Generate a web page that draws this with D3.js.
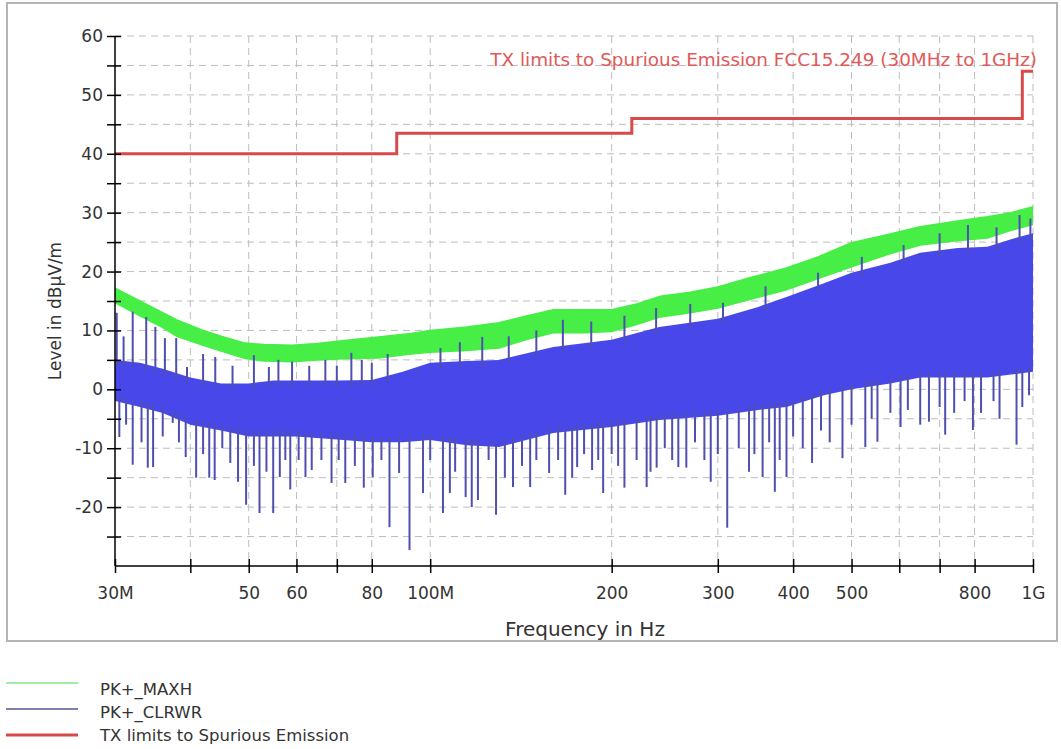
<!DOCTYPE html>
<html lang="en">
<head>
<meta charset="UTF-8">
<title>Spurious Emission 30MHz - 1GHz</title>
<script src="https://d3js.org/d3.v7.min.js"></script>
<style>
  body { margin: 0; background: #fff; }
  svg text { font-family: "DejaVu Sans", sans-serif; fill: #333; }
  .grid line { stroke: #bdbdbd; stroke-width: 1; stroke-dasharray: 7,5; }
  .axis path, .axis line { stroke: #000; stroke-width: 1.5; }
</style>
</head>
<body>
<svg id="chart" width="1061" height="749"></svg>
<script>
// frequencies in MHz, levels in dBuV/m
const xTickVals = [30, 40, 50, 60, 70, 80, 100, 200, 300, 400, 500, 600, 700, 800, 1000];
const xTickLabels = ["30M", "", "50", "60", "", "80", "100M", "200", "300", "400", "500", "", "", "800", "1G"];
const yTickVals = [-25, -20, -15, -10, -5, 0, 5, 10, 15, 20, 25, 30, 35, 40, 45, 50, 55, 60];

// PK+_MAXH band (top / bottom of the noisy trace)
const greenFreq = [30, 33, 36, 38, 42, 45, 49, 53, 59, 65, 72, 82, 93, 100, 115, 130, 145, 160, 180, 200, 220, 241, 270, 300, 340, 390, 440, 500, 570, 650, 740, 840, 920, 1000];
const greenHigh = [17.2, 15, 13, 11.8, 10, 9, 7.9, 7.6, 7.5, 7.8, 8.3, 8.9, 9.5, 10, 10.6, 11.3, 12.5, 13.5, 13.5, 13.5, 14.5, 15.8, 16.5, 17.4, 19, 20.6, 22.5, 24.9, 26.2, 27.6, 28.5, 29.3, 30, 31];
const greenLow = [14.7, 12.5, 10.5, 9, 7.5, 6.5, 5.3, 4.8, 4.7, 5, 5.2, 5.3, 6, 6.3, 6.6, 7, 8.5, 9.6, 9.6, 9.8, 11, 12.3, 13, 13.8, 15.3, 16.9, 18.8, 20.8, 22.8, 24.5, 25.2, 25.7, 27, 28];

// PK+_CLRWR dense core
const blueFreq = [30, 33, 36, 40, 45, 50, 55, 60, 70, 80, 90, 100, 115, 130, 160, 200, 240, 300, 350, 390, 450, 500, 580, 650, 750, 840, 920, 1000];
const blueHigh = [5, 4.5, 3.5, 2, 1, 1, 1.5, 1.5, 1.5, 1.6, 3, 4.5, 4.8, 5, 7.2, 8.4, 10.6, 12, 14, 15.7, 18, 19.8, 21.5, 23.2, 24, 24.2, 25.5, 26.5];
const blueLow = [-2, -3, -4, -6, -7, -8, -8, -8, -8.5, -9, -9, -8.6, -9.5, -9.8, -7.4, -6.4, -5.2, -4.5, -3.5, -3, -1, 0, 1, 2, 2, 2, 2.5, 3];

// PK+_CLRWR downward spikes
const downFreq = [30.5, 31.3, 32.1, 33.2, 34.0, 34.7, 36, 37.4, 38.3, 39.3, 40.9, 42, 43.0, 43.9, 45.2, 46.6, 48.0, 49.5, 51, 52.1, 53.5, 54.9, 56.3, 57.5, 58.6, 60.5, 62.1, 63.6, 66, 68.6, 70.5, 72.3, 75, 77.6, 80.3, 83, 85.6, 88.8, 92.4, 97.3, 100, 105, 107.8, 110, 114.5, 117.2, 120, 125, 128.6, 133, 137.2, 142, 146.5, 150, 157.5, 163, 167.5, 172, 175.3, 180, 185.6, 190, 193.6, 200, 205, 210, 220, 228.6, 232, 237.5, 245, 252, 258, 266, 275, 285, 292, 300, 311, 325, 338, 345, 356, 365, 373, 380, 390, 400, 415, 430, 445, 460, 483, 500, 527, 540, 552, 580, 603, 620, 650, 672, 700, 715, 740, 770, 795, 820, 860, 880, 939, 960, 985];
const downLevel = [-8.1, -6, -12.8, -9, -13.3, -13.2, -8, -5.7, -9, -11.5, -15, -11, -15, -15.4, -10, -12.5, -15.7, -19.6, -13, -21, -14, -21, -14.9, -12, -17, -12, -14.9, -13.7, -12, -15.9, -12, -15.9, -13, -16.7, -14.9, -12, -23.4, -14.2, -27.3, -17.6, -12, -21, -17.6, -14, -18.3, -20, -18.8, -12, -21.3, -15, -16.6, -13, -16.6, -12, -14.2, -12, -17.9, -15, -13.2, -11, -13.7, -12, -17.6, -11, -13, -16.7, -12, -16.6, -14, -13.3, -10, -12, -13.2, -13.3, -9, -12, -15.7, -11, -23.5, -10, -14, -11, -14.9, -9, -17.4, -12, -14.9, -8, -10, -12.5, -7, -9, -11.7, -6, -9.8, -5, -8.9, -4, -6.4, -3.5, -6, -5.5, -3, -7.7, -4, -2, -6.9, -4, -2, -5, -9.4, -3, -1];

// PK+_CLRWR upward spikes
const upFreq = [30.2, 31, 32.1, 33.8, 35, 36.3, 37.9, 39.5, 42, 44, 47, 51, 54, 56, 59, 63, 67, 70, 74, 77, 80, 85, 95, 104, 112, 122, 135, 150, 166, 185, 210, 237, 270, 306, 360, 440, 520, 610, 700, 780, 870, 950, 990];
const upLevel = [13, 9, 13.2, 12.3, 10.6, 8.7, 8.7, 3.8, 6, 5.5, 4, 5.8, 3.8, 5, 4.7, 4, 5, 4, 6.2, 5, 4.5, 6, 3.3, 7, 8, 8.9, 9, 10, 11.8, 11.5, 12.5, 13.8, 14.5, 14.7, 17.5, 19.8, 22.5, 24.5, 26.5, 27.9, 27.5, 29.6, 29];

// limit line FCC 15.209 steps
const limitFreq = [30, 88, 88, 216, 216, 960, 960, 1000];
const limitLevel = [40, 40, 43.5, 43.5, 46, 46, 54, 54];

const legendNames = ["PK+_MAXH", "PK+_CLRWR", "TX limits to Spurious Emission"];
const legendColors = ["#86e586", "#55558f", "#d84a4a"];
const legendWidths = [1.5, 1.5, 3];

const svg = d3.select("#chart");

// outer frame
svg.append("rect")
  .attr("x", 7).attr("y", 3).attr("width", 1050).attr("height", 638)
  .attr("fill", "#fff").attr("stroke", "#b4b4b4").attr("stroke-width", 2);

const x = d3.scaleLog().domain([30, 1000]).range([115, 1033]);
const y = d3.scaleLinear().domain([-30, 60]).range([566, 36]);

// grid
const grid = svg.append("g").attr("class", "grid");
grid.selectAll("line.v")
  .data(xTickVals.slice(1))
  .enter().append("line")
  .attr("x1", d => x(d)).attr("x2", d => x(d))
  .attr("y1", y(60)).attr("y2", y(-30));
grid.selectAll("line.h")
  .data(yTickVals)
  .enter().append("line")
  .attr("x1", x(30)).attr("x2", x(1000))
  .attr("y1", d => y(d)).attr("y2", d => y(d));

svg.append("clipPath").attr("id", "plot")
  .append("rect").attr("x", x(30)).attr("y", y(60))
  .attr("width", x(1000) - x(30)).attr("height", y(-30) - y(60));

const plot = svg.append("g").attr("clip-path", "url(#plot)");

// green band
const greenArea = d3.area()
  .x((d, i) => x(greenFreq[i]))
  .y0((d, i) => y(greenLow[i]))
  .y1((d, i) => y(greenHigh[i]));
plot.append("path")
  .datum(greenFreq)
  .attr("d", greenArea)
  .attr("fill", "#46ee46")
  .attr("stroke", "#46ee46")
  .attr("stroke-width", 1.5);

// blue core
const blueArea = d3.area()
  .x((d, i) => x(blueFreq[i]))
  .y0((d, i) => y(blueLow[i]))
  .y1((d, i) => y(blueHigh[i]));
plot.append("path")
  .datum(blueFreq)
  .attr("d", blueArea)
  .attr("fill", "#4848ea");

// blue spikes start from the edge of the core
const lowAt = d3.scaleLog().domain(blueFreq).range(blueLow);
const highAt = d3.scaleLog().domain(blueFreq).range(blueHigh);

plot.selectAll("line.down")
  .data(downFreq)
  .enter().append("line")
  .attr("x1", d => x(d)).attr("x2", d => x(d))
  .attr("y1", d => y(lowAt(d) + 1))
  .attr("y2", (d, i) => y(downLevel[i]))
  .attr("stroke", "#4f4fb0")
  .attr("stroke-width", 2);

plot.selectAll("line.up")
  .data(upFreq)
  .enter().append("line")
  .attr("x1", d => x(d)).attr("x2", d => x(d))
  .attr("y1", d => y(highAt(d) - 1))
  .attr("y2", (d, i) => y(upLevel[i]))
  .attr("stroke", "#4f4fb0")
  .attr("stroke-width", 2);

// limit line
plot.append("path")
  .datum(limitFreq)
  .attr("d", d3.line().x(d => x(d)).y((d, i) => y(limitLevel[i])))
  .attr("fill", "none")
  .attr("stroke", "#d84a4a")
  .attr("stroke-width", 3);

svg.append("text")
  .attr("x", 1037).attr("y", 66)
  .attr("text-anchor", "end")
  .style("font-size", "18.4px")
  .style("fill", "#e05a5a")
  .text("TX limits to Spurious Emission FCC15.249 (30MHz to 1GHz)");

// axes
const xAxis = svg.append("g")
  .attr("class", "axis")
  .attr("transform", `translate(0,${y(-30)})`)
  .call(d3.axisBottom(x).tickValues(xTickVals).tickSize(7).tickPadding(14)
    .tickFormat((d, i) => xTickLabels[i]));
xAxis.selectAll("line").attr("y1", -7);
xAxis.selectAll("text").style("font-size", "17px");

const yAxis = svg.append("g")
  .attr("class", "axis")
  .attr("transform", `translate(${x(30)},0)`)
  .call(d3.axisLeft(y).tickValues(yTickVals).tickSize(8).tickPadding(4)
    .tickFormat(d => d % 10 === 0 ? d : ""));
yAxis.selectAll("line").attr("x1", 6);
yAxis.selectAll("text").style("font-size", "17px");
yAxis.select("path").attr("d", `M0,${y(-30)}V${y(60)}`);
xAxis.select("path").attr("d", `M${x(30)},0H${x(1000)}`);

svg.append("text")
  .attr("x", 585).attr("y", 636)
  .attr("text-anchor", "middle")
  .style("font-size", "20px")
  .text("Frequency in Hz");

svg.append("text")
  .attr("transform", `translate(61,${(y(60) + y(-30)) / 2 + 10}) rotate(-90)`)
  .attr("text-anchor", "middle")
  .style("font-size", "17px")
  .text("Level in dBµV/m");

// legend
const legend = svg.append("g");
legendNames.forEach((name, i) => {
  const ly = 683 + i * 26;
  legend.append("line")
    .attr("x1", 6).attr("x2", 78)
    .attr("y1", ly).attr("y2", ly)
    .attr("stroke", legendColors[i])
    .attr("stroke-width", legendWidths[i]);
  legend.append("text")
    .attr("x", 100).attr("y", 695 + i * 23)
    .style("font-size", "16.5px")
    .text(name);
});
</script>
</body>
</html>
